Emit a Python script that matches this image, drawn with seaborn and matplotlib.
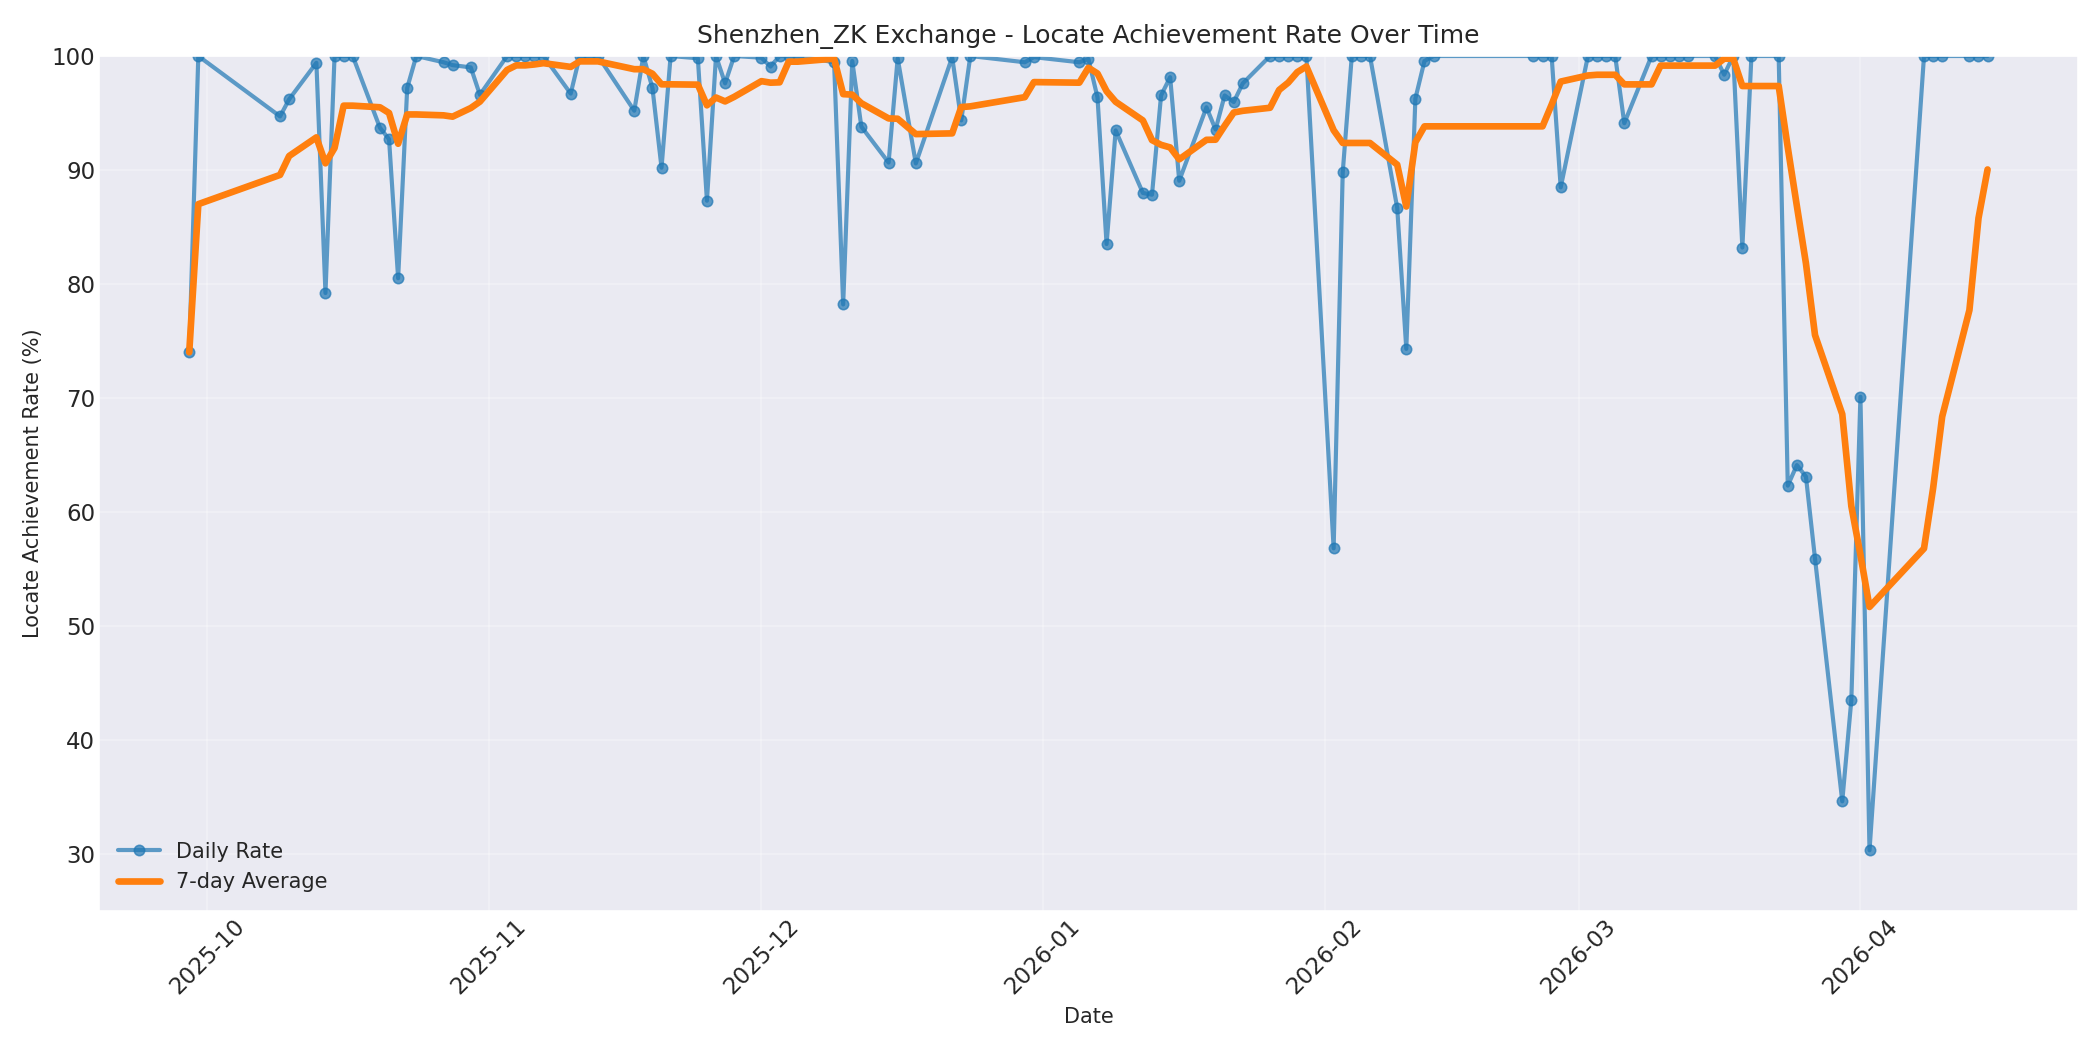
import pandas as pd
import matplotlib
matplotlib.use("Agg")
import matplotlib.pyplot as plt
import seaborn as sns

# Daily locate achievement rate
dates = [
    "2025-09-29", "2025-09-30", "2025-10-09", "2025-10-10", "2025-10-13", "2025-10-14",
    "2025-10-15", "2025-10-16", "2025-10-17", "2025-10-20", "2025-10-21", "2025-10-22",
    "2025-10-23", "2025-10-24", "2025-10-27", "2025-10-28", "2025-10-30", "2025-10-31",
    "2025-11-03", "2025-11-04", "2025-11-05", "2025-11-06", "2025-11-07", "2025-11-10",
    "2025-11-11", "2025-11-12", "2025-11-13", "2025-11-17", "2025-11-18", "2025-11-19",
    "2025-11-20", "2025-11-21", "2025-11-24", "2025-11-25", "2025-11-26", "2025-11-27",
    "2025-11-28", "2025-12-01", "2025-12-02", "2025-12-03", "2025-12-04", "2025-12-05",
    "2025-12-09", "2025-12-10", "2025-12-11", "2025-12-12", "2025-12-15", "2025-12-16",
    "2025-12-18", "2025-12-22", "2025-12-23", "2025-12-24", "2025-12-30", "2025-12-31",
    "2026-01-05", "2026-01-06", "2026-01-07", "2026-01-08", "2026-01-09", "2026-01-12",
    "2026-01-13", "2026-01-14", "2026-01-15", "2026-01-16", "2026-01-19", "2026-01-20",
    "2026-01-21", "2026-01-22", "2026-01-23", "2026-01-26", "2026-01-27", "2026-01-28",
    "2026-01-29", "2026-01-30", "2026-02-02", "2026-02-03", "2026-02-04", "2026-02-05",
    "2026-02-06", "2026-02-09", "2026-02-10", "2026-02-11", "2026-02-12", "2026-02-13",
    "2026-02-24", "2026-02-25", "2026-02-26", "2026-02-27", "2026-03-02", "2026-03-03",
    "2026-03-04", "2026-03-05", "2026-03-06", "2026-03-09", "2026-03-10", "2026-03-11",
    "2026-03-12", "2026-03-13", "2026-03-16", "2026-03-17", "2026-03-18", "2026-03-19",
    "2026-03-20", "2026-03-23", "2026-03-24", "2026-03-25", "2026-03-26", "2026-03-27",
    "2026-03-30", "2026-03-31", "2026-04-01", "2026-04-02", "2026-04-08", "2026-04-09",
    "2026-04-10", "2026-04-13", "2026-04-14", "2026-04-15",
]
daily_rate = [
    74.0, 100, 94.7, 96.2, 99.4, 79.2,
    100, 100, 100, 93.7, 92.7, 80.5,
    97.2, 100, 99.45, 99.2, 99.0, 96.6,
    100, 100, 100, 100, 100, 96.7,
    100, 100, 100, 95.2, 100, 97.2,
    90.2, 100, 99.8, 87.3, 100, 97.6,
    100, 99.85, 99.07, 100, 100, 100,
    99.45, 78.2, 99.56, 93.8, 90.65, 99.8,
    90.57, 99.9, 94.35, 100, 99.45, 99.9,
    99.45, 99.74, 96.37, 83.5, 93.47, 87.98,
    87.83, 96.54, 98.14, 89.05, 95.5, 93.55,
    96.54, 95.96, 97.6, 100, 100, 100,
    100, 100, 56.8, 89.78, 100, 100,
    100, 86.67, 74.3, 96.26, 99.56, 100,
    100, 100, 100, 88.47, 100, 100,
    100, 100, 94.1, 100, 100, 100,
    100, 100, 100, 98.36, 100, 83.19,
    100, 100, 62.3, 64.1, 63.1, 55.9,
    34.6, 43.5, 70.1, 30.3, 100, 100,
    100, 100, 100, 100,
]

df = pd.DataFrame({"Date": pd.to_datetime(dates), "Rate": daily_rate})
# 7-observation rolling mean of the daily rate
df["Avg7"] = df["Rate"].rolling(7, min_periods=1).mean()

sns.set_style("darkgrid")

plt.figure(figsize=(14, 7))
sns.lineplot(data=df, x="Date", y="Rate", marker="o", markersize=5,
             markeredgecolor="#1f77b4", linewidth=2, alpha=0.7,
             color="#1f77b4", label="Daily Rate")
sns.lineplot(data=df, x="Date", y="Avg7", linewidth=3.2,
             color="#ff7f0e", label="7-day Average")

plt.title("Shenzhen_ZK Exchange - Locate Achievement Rate Over Time", fontsize=12)
plt.xlabel("Date", fontsize=10)
plt.ylabel("Locate Achievement Rate (%)", fontsize=10)
plt.ylim(25, 100)
plt.xticks(rotation=45, fontsize=11)
plt.yticks(fontsize=11)
plt.tick_params(length=0, pad=2)
plt.grid(True, alpha=0.3)
plt.legend(loc="lower left", fontsize=10, frameon=False)
plt.tight_layout()
plt.savefig("out.png", dpi=150)
